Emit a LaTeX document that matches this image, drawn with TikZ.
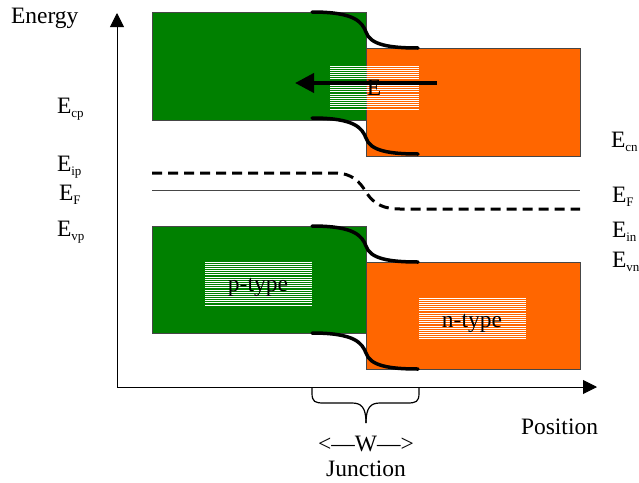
\documentclass[tikz,border=0pt]{standalone}
\usepackage{fontspec}
\setmainfont{Liberation Serif}
\usetikzlibrary{arrows.meta}
\definecolor{pgreen}{RGB}{0,128,0}
\definecolor{norange}{RGB}{255,102,0}
\definecolor{edgegray}{RGB}{70,70,70}
\newcommand\hatchrect[4]{%
  \pgfmathtruncatemacro\hatchn{(#4-#2)/2.15}%
  \foreach \k in {0,...,\hatchn}{\draw[hatchline] (#1,{#2+\k*2.15}) -- (#3,{#2+\k*2.15});}}
\newcommand\lsub[1]{\raisebox{-4pt}{\fontsize{13}{14}\selectfont #1}}
\begin{document}
\begin{tikzpicture}[x=1pt,y=-1pt,
  every node/.style={font=\fontsize{23.5}{27}\selectfont, inner sep=0pt, outer sep=0pt},
  bandbox/.style={draw=edgegray, line width=0.8pt, minimum width=214pt, anchor=north west},
  pbox/.style={bandbox, fill=pgreen},
  nbox/.style={bandbox, fill=norange},
  bandedge/.style={line width=3.5pt, line cap=round},
  hatchline/.style={white, line width=0.9pt},
  axisline/.style={line width=0.9pt, -{Triangle[length=14pt,width=14pt]}},
  lbl/.style={anchor=base west}]
\useasboundingbox (0,0) rectangle (639,482);
% band boxes
\node[pbox, minimum height=108pt] (pcb) at (152,12) {};
\node[nbox, minimum height=108pt] (ncb) at (366,48) {};
\node[pbox, minimum height=107pt] (pvb) at (152,226) {};
\node[nbox, minimum height=107pt] (nvb) at (366,262) {};
% hatched label backgrounds
\hatchrect{330}{66}{419}{109}
\hatchrect{205}{262}{312}{305}
\hatchrect{419}{298}{526}{339}
% band bending
\foreach \dy in {0,106,214,321}{
  \draw[bandedge, shift={(0,\dy)}] (312,12) .. controls (355,12) and (362,22) .. (366,32)
     .. controls (370,45) and (390,48) .. (418,48);}
% Fermi level and intrinsic level
\coordinate (efl) at (152,190);
\coordinate (efr) at (580,190);
\draw[edgegray, line width=1pt] (efl) -- (efr);
\coordinate (eipl) at (152,173);
\coordinate (einr) at (580,209);
\draw[line width=3pt, dash pattern=on 10pt off 6pt] (eipl) -- (335,173) .. controls (352,173) and (360,182) .. (366,192)
   .. controls (374,205) and (385,209) .. (400,209) -- (einr);
% axes
\coordinate (origin) at (117,387);
\coordinate (ytip) at (117,13);
\coordinate (xtip) at (597,387);
\draw[axisline] (origin) -- (ytip);
\draw[axisline] (origin) -- (xtip);
% electric field
\node[anchor=base] (efield) at (374,95) {E};
\coordinate (fstart) at (437,83);
\coordinate (fend) at (295,83);
\draw[line width=4pt, -{Triangle[length=19pt,width=19pt]}] (fstart) -- (fend);
% type labels
\node[anchor=base] (ptype) at (258,291) {p-type};
\node[anchor=base] (ntype) at (472,327) {n-type};
% level labels
\node[lbl] (energy) at (11,23) {Energy};
\node[lbl] (ecp) at (57,113) {E\lsub{cp}};
\node[lbl] (eip) at (57,171) {E\lsub{ip}};
\node[lbl] (efp) at (59,200) {E\lsub{F}};
\node[lbl] (evp) at (57,236) {E\lsub{vp}};
\node[lbl] (ecn) at (611,147) {E\lsub{cn}};
\node[lbl] (efn) at (612,202) {E\lsub{F}};
\node[lbl] (ein) at (612,237) {E\lsub{in}};
\node[lbl] (evn) at (612,267) {E\lsub{vn}};
\node[lbl] (position) at (521,434) {Position};
% junction brace
\coordinate (bl) at (312,388);
\coordinate (br) at (419,388);
\coordinate (btip) at (366,423);
\draw[line width=1.2pt] (bl) -- (312,393) .. controls (312,402) and (315,403) .. (324,403) -- (352,403)
   .. controls (361,403) and (366,407) .. (btip);
\draw[line width=1.2pt] (br) -- (419,393) .. controls (419,402) and (416,403) .. (407,403) -- (380,403)
   .. controls (371,403) and (366,407) .. (btip);
\node[anchor=base] (wlabel) at (366,451) {<—W—>};
\node[anchor=base] (junction) at (366,476) {Junction};
\end{tikzpicture}
\end{document}
